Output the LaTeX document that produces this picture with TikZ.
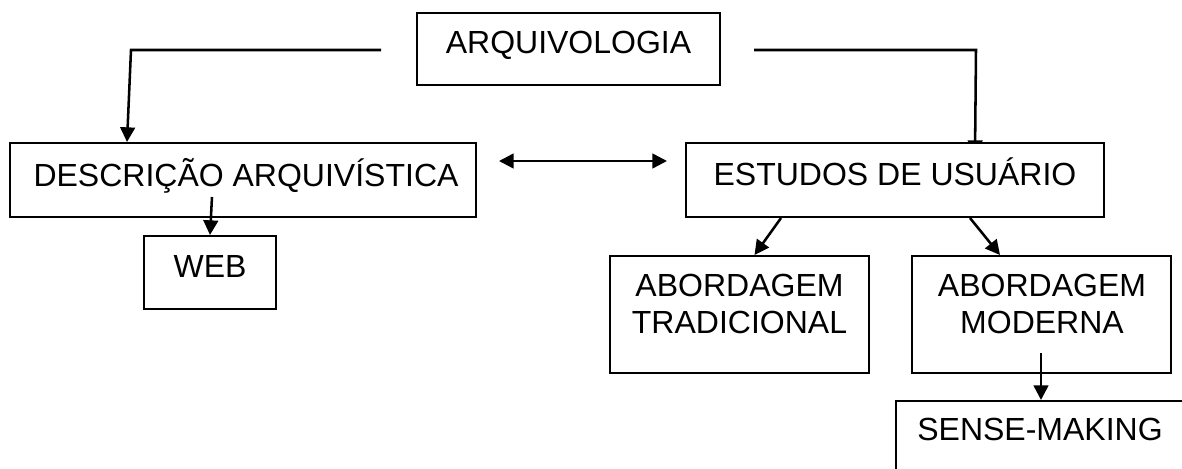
\documentclass[tikz,border=0pt]{standalone}
\usepackage{fontspec}
\setmainfont{Liberation Sans}
\usetikzlibrary{arrows.meta,calc}
\pgfdeclarelayer{background}
\pgfsetlayers{background,main}
\begin{document}
\begin{tikzpicture}[x=0.75pt,y=-0.75pt,
  box/.style={draw=black,line width=1.5pt,fill=white,rectangle,inner sep=0pt},
  lbl/.style={font=\fontsize{24}{27.5}\selectfont,inner sep=0pt,anchor=base,align=center},
  con/.style={line width=1.9pt},
  arr/.style={con,-{Triangle[length=11pt,width=11pt]}},
  arrb/.style={con,{Triangle[length=11pt,width=11pt]}-{Triangle[length=11pt,width=11pt]}}]
\useasboundingbox (0,0) rectangle (1182,468);
\clip (0,0) rectangle (1182,468);
% boxes
\node[box,minimum width={(720-417)*0.75pt},minimum height={(85-13)*0.75pt}] (arq) at (568.5,49) {};
\node[box,minimum width={(476-10)*0.75pt},minimum height={(217-143)*0.75pt}] (desc) at (243,180) {};
\node[box,minimum width={(1104-686)*0.75pt},minimum height={(217-143)*0.75pt}] (est) at (895,180) {};
\node[box,minimum width={(276-144)*0.75pt},minimum height={(309-236)*0.75pt}] (web) at (210,272.5) {};
\node[box,minimum width={(869-610)*0.75pt},minimum height={(373-256)*0.75pt}] (trad) at (739.5,314.5) {};
\node[box,minimum width={(1171-912)*0.75pt},minimum height={(373-256)*0.75pt}] (mod) at (1041.5,314.5) {};
\node[box,minimum width={(1200-896)*0.75pt},minimum height={(490-401)*0.75pt}] (sense) at (1048,445.5) {};
% texts
\node[lbl] (tarq) at (568.5,53.5) {ARQUIVOLOGIA};
\node[lbl] (tdesc) at (246,186.7) {DESCRIÇÃO ARQUIVÍSTICA};
\node[lbl] (test) at (895,185.5) {ESTUDOS DE USUÁRIO};
\node[lbl] (tweb) at (210,277.3) {WEB};
\node[lbl] (ttrad) at (739.5,333.3) {ABORDAGEM\\TRADICIONAL};
\node[lbl] (tmod) at (1042,333.3) {ABORDAGEM\\MODERNA};
\node[lbl] (tsense) at (1040,440.7) {SENSE-MAKING};
% connectors
\coordinate (al) at (381,50);
\coordinate (ar) at (754,50);
\coordinate (d1) at (499,161);
\coordinate (d2) at (667,161);
\coordinate (dw) at (212,197);
\coordinate (ms) at (1041,353);
\draw[arr] (al) -- (131,50) -- ($(desc.north west)+(118,0)$);
\begin{pgfonlayer}{background}
\draw[arr] (ar) -- (976,50) -- ($(est.north west)+(290,13)$);
\end{pgfonlayer}
\draw[arrb] (d1) -- (d2);
\draw[arr] (dw) -- (web.north);
\draw[arr] ($(est.south west)+(96,0)$) -- ($(trad.north)+(15,0)$);
\draw[arr] ($(est.south west)+(285,0)$) -- ($(mod.north)+(-41.5,0)$);
\draw[arr] (ms) -- (ms |- sense.north);
\end{tikzpicture}
\end{document}
